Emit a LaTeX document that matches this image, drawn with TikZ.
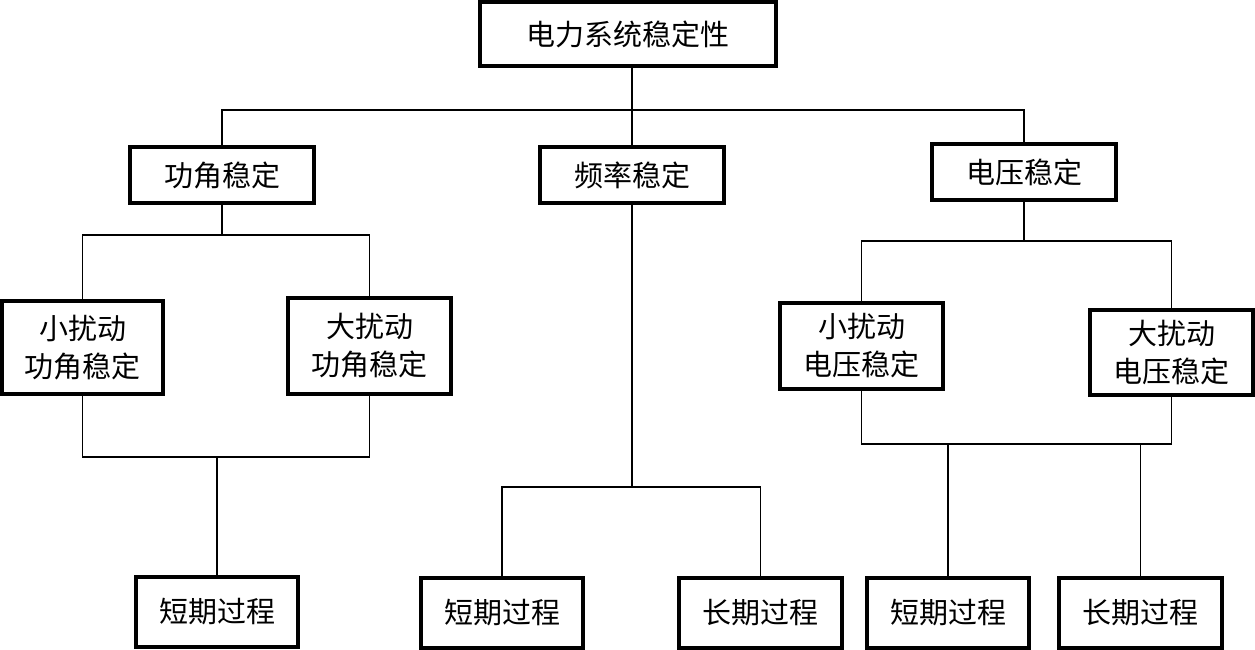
\documentclass[tikz,border=0pt]{standalone}
\usepackage{fontspec}
\newfontfamily\cjk{Noto Sans CJK SC}
\begin{document}
\begin{tikzpicture}[x=1pt,y=1pt,
  box/.style={draw, line width=4pt, rectangle, inner sep=0pt, align=center,
    font=\cjk\fontsize{29}{38}\selectfont},
  conn/.style={line width=1.5pt}]
\useasboundingbox[fill=white] (0,0) rectangle (1255,-650);
% boxes
\node[box, minimum width=296, minimum height=64] (top) at (628,-34) {电力系统稳定性};
\node[box, minimum width=184, minimum height=56] (gj) at (222,-175) {功角稳定};
\node[box, minimum width=184, minimum height=56] (pl) at (632,-175) {频率稳定};
\node[box, minimum width=184, minimum height=56] (dy) at (1024,-172) {电压稳定};
\node[box, minimum width=161, minimum height=93] (xgj) at (82.5,-347.5) {小扰动\\功角稳定};
\node[box, minimum width=163, minimum height=96] (dgj) at (369.5,-346) {大扰动\\功角稳定};
\node[box, minimum width=163, minimum height=86] (xdy) at (861.5,-346) {小扰动\\电压稳定};
\node[box, minimum width=163, minimum height=85] (ddy) at (1171.5,-352.5) {大扰动\\电压稳定};
\node[box, minimum width=162, minimum height=70] (d1) at (217,-612) {短期过程};
\node[box, minimum width=162, minimum height=70] (d2) at (502,-613) {短期过程};
\node[box, minimum width=163, minimum height=70] (c2) at (760.5,-613) {长期过程};
\node[box, minimum width=162, minimum height=70] (d3) at (948,-613) {短期过程};
\node[box, minimum width=163, minimum height=70] (c3) at (1140.5,-613) {长期过程};
% junctions
\coordinate (j1) at (632,-110);
\coordinate (j2) at (222,-235);
\coordinate (j3) at (217,-457);
\coordinate (j4) at (632,-487);
\coordinate (j5) at (1024,-241);
\coordinate (j6) at (948,-444);
% connectors
\draw[conn] (top.south -| j1) -- (pl.north);
\draw[conn] (gj.north) |- (j1) -| (dy.north);
\draw[conn] (gj.south) -- (j2);
\draw[conn] (xgj.north) |- (j2) -| (dgj.north);
\draw[conn] (xgj.south) |- (j3) -| (dgj.south);
\draw[conn] (j3) -- (d1.north);
\draw[conn] (pl.south) -- (j4);
\draw[conn] (d2.north) |- (j4) -| (c2.north);
\draw[conn] (dy.south) -- (j5);
\draw[conn] (xdy.north) |- (j5) -| (ddy.north);
\draw[conn] (xdy.south) |- (j6) -| (ddy.south);
\draw[conn] (d3.north) -- (d3.north |- j6);
\draw[conn] (c3.north) -- (c3.north |- j6);
\end{tikzpicture}
\end{document}
